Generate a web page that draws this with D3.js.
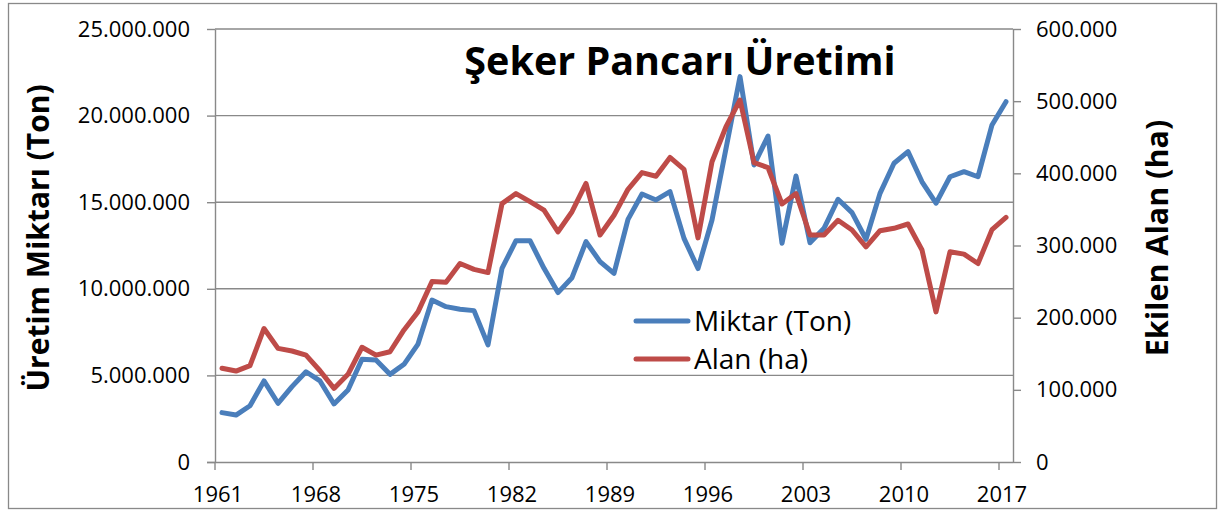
<!DOCTYPE html>
<html>
<head>
<meta charset="utf-8">
<script src="https://cdn.jsdelivr.net/npm/d3@7"></script>
<style>
  body { margin: 0; background: #fff; }
  svg { display: block; }
</style>
</head>
<body>
<div id="chart"></div>
<script>
"use strict";

// == data ==
var years = d3.range(1961, 2018);

// Miktar (Ton) - left axis
var miktar = [
  2850000, 2710000, 3250000, 4680000, 3390000, 4350000, 5210000, 4680000, 3350000, 4160000,
  5930000, 5890000, 5060000, 5640000, 6810000, 9350000, 8970000, 8820000, 8740000, 6760000,
  11180000, 12780000, 12780000, 11180000, 9780000, 10640000, 12720000, 11570000, 10890000, 14010000,
  15470000, 15130000, 15610000, 12910000, 11170000, 13970000, 18100000, 22250000, 17150000, 18820000,
  12630000, 16510000, 12660000, 13490000, 15170000, 14400000, 12860000, 15510000, 17250000, 17920000,
  16180000, 14940000, 16470000, 16760000, 16470000, 19460000, 20800000
];

// Alan (ha) - right axis
var alan = [
  130000, 126000, 133500, 185000, 157500, 153800, 148000, 126500, 102000, 121500,
  159000, 148000, 152800, 183000, 208000, 250000, 249000, 275000, 267000, 262500,
  358000, 372000, 360700, 349000, 319000, 346800, 386000, 314500, 342000, 377900,
  401000, 396000, 422000, 405600, 310500, 416000, 464600, 501600, 414700, 408000,
  357500, 372000, 314500, 314500, 335000, 321500, 298000, 320500, 323800, 329800,
  293700, 208000, 291400, 288000, 275000, 322000, 339000
];

var leftTicks = [0, 5000000, 10000000, 15000000, 20000000, 25000000];
var rightTicks = [0, 100000, 200000, 300000, 400000, 500000, 600000];
var xTickYears = [1961, 1968, 1975, 1982, 1989, 1996, 2003, 2010, 2017];

var seriesNames = ["Miktar (Ton)", "Alan (ha)"];
var titleText = "Şeker Pancarı Üretimi";
var leftTitle = "Üretim Miktarı (Ton)";
var rightTitle = "Ekilen Alan (ha)";

// == svg boilerplate ==
var W = 1219, H = 513;
var plot = { left: 215, right: 1013, top: 29, bottom: 462 };
var blue = "#4a7ebb", red = "#be4b48", gray = "#898989";
var font = "'Open Sans', 'DejaVu Sans', sans-serif";

var svg = d3.select("#chart")
            .append("svg")
            .attr("width", W)
            .attr("height", H);

// outer chart border
svg.append("rect")
   .attr("x", 8.5).attr("y", 3.5)
   .attr("width", 1208).attr("height", 505)
   .attr("fill", "#fff")
   .attr("stroke", gray)
   .attr("stroke-width", 1.3);

// == scales ==
var xScale = d3.scaleBand()
               .domain(years)
               .range([plot.left, plot.right]);
var yLeft = d3.scaleLinear()
              .domain([0, 25000000])
              .range([plot.bottom, plot.top]);
var yRight = d3.scaleLinear()
               .domain([0, 600000])
               .range([plot.bottom, plot.top]);

var fmt = d3.formatLocale({ decimal: ",", thousands: ".", grouping: [3], currency: ["", ""] })
            .format(",d");

// == gridlines ==
svg.append("g")
   .selectAll("line")
   .data(leftTicks.slice(1))
   .enter()
   .append("line")
   .attr("x1", plot.left).attr("x2", plot.right)
   .attr("y1", function (d) { return yLeft(d); })
   .attr("y2", function (d) { return yLeft(d); })
   .attr("stroke", gray)
   .attr("stroke-width", 1.4);

// == axes ==
var leftAxis = d3.axisLeft(yLeft).tickValues(leftTicks).tickFormat(fmt)
                 .tickSizeInner(8).tickSizeOuter(0).tickPadding(17);
var rightAxis = d3.axisRight(yRight).tickValues(rightTicks).tickFormat(fmt)
                  .tickSizeInner(8).tickSizeOuter(0).tickPadding(15);
var bottomAxis = d3.axisBottom(xScale).tickValues(xTickYears)
                   .tickSizeInner(8).tickSizeOuter(0).tickPadding(16);

function styleAxis(g) {
  g.select(".domain").attr("stroke", gray).attr("stroke-width", 1.4);
  g.selectAll(".tick line").attr("stroke", gray).attr("stroke-width", 1.4);
  g.selectAll(".tick text")
   .attr("fill", "#000")
   .style("font-family", font)
   .style("font-size", "22px");
}

svg.append("g")
   .attr("transform", "translate(" + plot.left + ",0)")
   .call(leftAxis)
   .call(styleAxis);

svg.append("g")
   .attr("transform", "translate(" + plot.right + ",0)")
   .call(rightAxis)
   .call(styleAxis);

var xAxisG = svg.append("g")
   .attr("transform", "translate(0," + plot.bottom + ")")
   .call(bottomAxis)
   .call(styleAxis);
// ticks sit on category boundaries, labels next to them
xAxisG.selectAll(".tick")
      .attr("transform", function (d) { return "translate(" + xScale(d) + ",0)"; });
xAxisG.selectAll(".tick text").attr("x", 3);
xAxisG.select(".domain").attr("d", "M" + (plot.left - 8) + ",0.5H" + plot.right);

// == lines ==
var half = xScale.bandwidth() / 2;
var lineLeft = d3.line()
                 .x(function (d, i) { return xScale(years[i]) + half; })
                 .y(function (d) { return yLeft(d); });
var lineRight = d3.line()
                  .x(function (d, i) { return xScale(years[i]) + half; })
                  .y(function (d) { return yRight(d); });

svg.append("path")
   .datum(miktar)
   .attr("d", lineLeft)
   .attr("fill", "none")
   .attr("stroke", blue)
   .attr("stroke-width", 5)
   .attr("stroke-linejoin", "round")
   .attr("stroke-linecap", "round");

svg.append("path")
   .datum(alan)
   .attr("d", lineRight)
   .attr("fill", "none")
   .attr("stroke", red)
   .attr("stroke-width", 5)
   .attr("stroke-linejoin", "round")
   .attr("stroke-linecap", "round");

// == titles ==
svg.append("text")
   .attr("x", 680).attr("y", 75)
   .attr("text-anchor", "middle")
   .style("font-family", font)
   .style("font-weight", "bold")
   .style("font-size", "39.5px")
   .text(titleText);

svg.append("text")
   .attr("transform", "translate(49,238) rotate(-90)")
   .attr("text-anchor", "middle")
   .style("font-family", font)
   .style("font-weight", "bold")
   .style("font-size", "30px")
   .text(leftTitle);

svg.append("text")
   .attr("transform", "translate(1168,238) rotate(-90)")
   .attr("text-anchor", "middle")
   .style("font-family", font)
   .style("font-weight", "bold")
   .style("font-size", "30.5px")
   .text(rightTitle);

// == legend ==
var legend = svg.append("g")
   .selectAll("g")
   .data(seriesNames)
   .enter()
   .append("g")
   .attr("transform", function (d, i) { return "translate(636," + (321 + i * 38) + ")"; });

legend.append("line")
   .attr("x1", 0).attr("x2", 52)
   .attr("stroke", function (d, i) { return i === 0 ? blue : red; })
   .attr("stroke-width", 5)
   .attr("stroke-linecap", "round");

legend.append("text")
   .attr("x", 58).attr("y", 10)
   .style("font-family", font)
   .style("font-size", "28px")
   .text(function (d) { return d; });
</script>
</body>
</html>
